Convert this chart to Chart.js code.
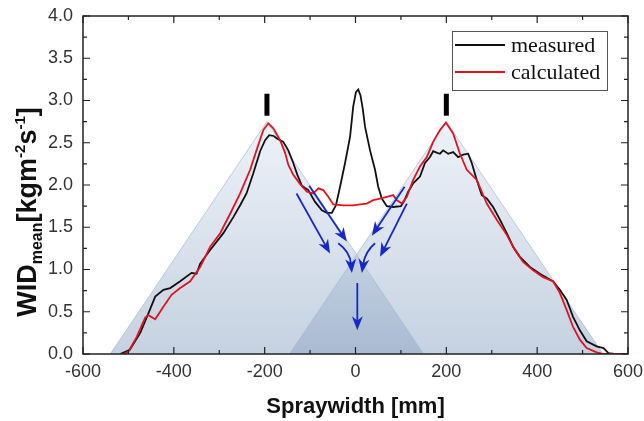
<!DOCTYPE html>
<html>
<head>
<meta charset="utf-8">
<script src="https://cdn.jsdelivr.net/npm/chart.js@4/dist/chart.umd.min.js"></script>
<style>
  html, body { margin: 0; padding: 0; background: #fff; }
</style>
</head>
<body>
<canvas id="chart" width="644" height="421"></canvas>
<script>
// measured WID profile across the spray width
const measuredX = [-518, -497, -474, -456, -441, -423, -408, -386, -361, -350, -342, -320, -291, -269, -254, -240,
  -225, -210, -199, -190, -180, -173, -159, -148, -137, -128, -118, -104, -89, -74, -63, -52, -43, -34, -23, -12,
  -5, 1, 6, 11, 16, 21, 32, 43, 50, 58, 69, 83, 100, 108, 116, 127, 142, 153, 164, 171, 180, 186, 193, 204, 215,
  226, 237, 248, 256, 267, 278, 289, 303, 318, 333, 347, 362, 384, 406, 435, 450, 465, 479, 494, 509, 531, 546, 557, 570]
const measuredY = [0, 0.05, 0.25, 0.48, 0.68, 0.76, 0.78, 0.86, 0.96, 0.95, 1.07, 1.23, 1.43, 1.62, 1.76, 1.90,
  2.14, 2.40, 2.53, 2.59, 2.58, 2.55, 2.51, 2.41, 2.26, 2.12, 1.99, 1.94, 1.80, 1.70, 1.67, 1.67, 1.76, 1.98, 2.26, 2.57,
  2.93, 3.10, 3.13, 3.06, 2.90, 2.69, 2.41, 2.18, 1.98, 1.84, 1.75, 1.74, 1.75, 1.82, 1.92, 2.02, 2.10, 2.26, 2.33, 2.40,
  2.38, 2.37, 2.41, 2.37, 2.39, 2.33, 2.36, 2.37, 2.26, 2.06, 1.88, 1.84, 1.74, 1.59, 1.43, 1.27, 1.15, 1.03, 0.95,
  0.86, 0.76, 0.64, 0.44, 0.28, 0.15, 0.09, 0.07, 0.01, 0]

// calculated WID profile (two overlapping nozzles)
const calculatedX = [-510, -500, -482, -463, -456, -441, -423, -405, -386, -364, -342, -320, -298, -276, -254, -232,
  -218, -203, -192, -181, -166, -155, -148, -137, -122, -107, -93, -82, -71, -60, -49, -27, -5, 10, 25, 39, 54, 69,
  83, 91, 102, 113, 127, 142, 157, 171, 186, 199, 215, 230, 245, 267, 289, 311, 333, 351, 369, 391, 413, 435, 450,
  465, 479, 494, 509, 531, 546, 600]
const calculatedY = [0, 0.03, 0.20, 0.43, 0.46, 0.41, 0.56, 0.70, 0.78, 0.86, 1.03, 1.27, 1.43, 1.66, 1.90, 2.18,
  2.41, 2.65, 2.73, 2.67, 2.53, 2.38, 2.24, 2.12, 2.01, 1.92, 1.90, 1.96, 1.94, 1.86, 1.77, 1.76, 1.76, 1.77, 1.78, 1.82,
  1.84, 1.86, 1.88, 1.82, 1.78, 1.86, 2.06, 2.22, 2.33, 2.51, 2.65, 2.74, 2.61, 2.37, 2.18, 2.06, 1.78, 1.59, 1.41,
  1.23, 1.09, 0.99, 0.91, 0.86, 0.72, 0.52, 0.32, 0.17, 0.07, 0.02, 0, 0]

// spray cones of the two nozzles
const coneApexX = [-195, 200]
const coneApexY = 2.75
const coneHalfWidth = 345

// nozzle position markers
const markerX = [-195, 200]
const markerBottom = 2.82
const markerTop = 3.08

// flow arrows (data coordinates, 3 points = curved)
const arrowPaths = [
  [[-130, 1.90], [-56, 1.19]],
  [[-102, 1.99], [-19, 1.33]],
  [[-38, 1.31], [-12, 1.21], [-8, 0.96]],
  [[43, 1.31], [21, 1.21], [14, 0.96]],
  [[108, 1.98], [36, 1.40]],
  [[113, 1.78], [54, 1.15]],
  [[4, 0.84], [4, 0.28]]
]

const xMin = -600, xMax = 600, xStep = 200
const yMin = 0, yMax = 4, yStep = 0.5

const toPoints = (xs, ys) => xs.map((x, i) => ({ x: x, y: ys[i] }))

const coneFill = (context) => {
  const chart = context.chart
  if (!chart.chartArea) return 'rgba(200,212,226,0.5)'
  const y = chart.scales.y
  const g = chart.ctx.createLinearGradient(0, y.getPixelForValue(coneApexY), 0, y.getPixelForValue(0))
  g.addColorStop(0, 'rgba(215,225,240,0.45)')
  g.addColorStop(1, 'rgba(140,165,195,0.5)')
  return g
}

const coneSets = coneApexX.map(cx => ({
  label: 'cone',
  data: [{ x: cx - coneHalfWidth, y: 0 }, { x: cx, y: coneApexY }, { x: cx + coneHalfWidth, y: 0 }],
  fill: 'origin',
  backgroundColor: coneFill,
  borderColor: 'rgba(165,185,208,0.7)',
  borderWidth: 1,
  pointRadius: 0,
  order: 5
}))

const markerSets = markerX.map(mx => ({
  label: 'marker',
  data: [{ x: mx, y: markerBottom }, { x: mx, y: markerTop }],
  borderColor: '#000',
  borderWidth: 5,
  borderCapStyle: 'butt',
  pointRadius: 0,
  fill: false,
  order: 0
}))

// keep tick labels from pushing the plot area inwards
const noLabelPadding = (scale) => {
  scale.paddingLeft = 0
  scale.paddingRight = 0
  scale.paddingTop = 0
  scale.paddingBottom = 0
}

const framePlugin = {
  id: 'frame',
  afterDatasetsDraw(chart) {
    const { ctx, chartArea: a, scales } = chart
    ctx.save()

    // blue flow arrows
    ctx.strokeStyle = 'rgb(22,40,205)'
    ctx.fillStyle = 'rgb(22,40,205)'
    ctx.lineWidth = 1.8
    arrowPaths.forEach(path => {
      const p = path.map(([x, y]) => [scales.x.getPixelForValue(x), scales.y.getPixelForValue(y)])
      const end = p[p.length - 1]
      const prev = p[p.length - 2]
      const ang = Math.atan2(end[1] - prev[1], end[0] - prev[0])
      const L = 14, W = 5.5
      const sx = end[0] - Math.cos(ang) * L * 0.6
      const sy = end[1] - Math.sin(ang) * L * 0.6
      ctx.beginPath()
      ctx.moveTo(p[0][0], p[0][1])
      if (p.length === 3) ctx.quadraticCurveTo(p[1][0], p[1][1], sx, sy)
      else ctx.lineTo(sx, sy)
      ctx.stroke()
      ctx.save()
      ctx.translate(end[0], end[1])
      ctx.rotate(ang)
      ctx.beginPath()
      ctx.moveTo(0, 0)
      ctx.lineTo(-L, -W)
      ctx.lineTo(-L * 0.7, 0)
      ctx.lineTo(-L, W)
      ctx.closePath()
      ctx.fill()
      ctx.restore()
    })

    // axis box with inward ticks on all sides
    ctx.strokeStyle = '#222'
    ctx.lineWidth = 1.5
    ctx.strokeRect(a.left, a.top, a.right - a.left, a.bottom - a.top)
    ctx.lineWidth = 1.2
    ctx.beginPath()
    for (let v = xMin; v <= xMax; v += xStep / 2) {
      const px = scales.x.getPixelForValue(v)
      const len = (v % xStep === 0) ? 7 : 4
      ctx.moveTo(px, a.bottom); ctx.lineTo(px, a.bottom - len)
      ctx.moveTo(px, a.top); ctx.lineTo(px, a.top + len)
    }
    for (let v = yMin; v <= yMax + 1e-9; v += yStep / 2) {
      const py = scales.y.getPixelForValue(v)
      const major = Math.abs(v / yStep - Math.round(v / yStep)) < 1e-6
      const len = major ? 7 : 4
      ctx.moveTo(a.left, py); ctx.lineTo(a.left + len, py)
      ctx.moveTo(a.right, py); ctx.lineTo(a.right - len, py)
    }
    ctx.stroke()

    // legend box inside the plot
    const lx = 452, ly = 31, lw = 155, lh = 59
    ctx.fillStyle = '#fff'
    ctx.fillRect(lx, ly, lw, lh)
    ctx.strokeStyle = '#555'
    ctx.lineWidth = 1
    ctx.strokeRect(lx + 0.5, ly + 0.5, lw, lh)
    const entries = [chart.data.datasets[0], chart.data.datasets[1]]
    ctx.font = '22px "Liberation Serif"'
    ctx.textBaseline = 'alphabetic'
    entries.forEach((ds, i) => {
      const y = ly + 14 + i * 27
      ctx.strokeStyle = ds.borderColor
      ctx.lineWidth = 1.8
      ctx.beginPath()
      ctx.moveTo(lx + 3, y); ctx.lineTo(lx + 53, y)
      ctx.stroke()
      ctx.fillStyle = '#111'
      ctx.fillText(ds.label, lx + 59, y + 7)
    })
    ctx.restore()
  },
  afterDraw(chart) {
    // y axis title with subscript and superscripts
    const { ctx } = chart
    const parts = [['WID', 27, 0], ['mean', 16, 6], ['[kgm', 27, 0], ['-2', 15, -11], ['s', 27, 0], ['-1', 15, -11], [']', 27, 0]]
    ctx.save()
    let total = 0
    parts.forEach(([t, s]) => { ctx.font = `bold ${s}px "Liberation Sans"`; total += ctx.measureText(t).width })
    ctx.translate(36, 212)
    ctx.rotate(-Math.PI / 2)
    ctx.fillStyle = '#111'
    ctx.textBaseline = 'alphabetic'
    let x = -total / 2
    parts.forEach(([t, s, dy]) => {
      ctx.font = `bold ${s}px "Liberation Sans"`
      ctx.fillText(t, x, dy)
      x += ctx.measureText(t).width
    })
    ctx.restore()
  }
}

new Chart(document.getElementById('chart').getContext('2d'), {
  type: 'line',
  data: {
    datasets: [
      {
        label: 'measured',
        data: toPoints(measuredX, measuredY),
        borderColor: '#111',
        borderWidth: 1.8,
        pointRadius: 0,
        fill: false,
        order: 2
      },
      {
        label: 'calculated',
        data: toPoints(calculatedX, calculatedY),
        borderColor: 'rgb(225,20,30)',
        borderWidth: 1.8,
        pointRadius: 0,
        fill: false,
        order: 1
      },
      ...coneSets,
      ...markerSets
    ]
  },
  options: {
    responsive: false,
    animation: false,
    layout: { padding: { top: 16, right: 16, left: 0, bottom: 0 } },
    plugins: {
      legend: { display: false },
      tooltip: { enabled: false }
    },
    scales: {
      x: {
        type: 'linear',
        min: xMin,
        max: xMax,
        grid: { display: false, drawTicks: false },
        border: { display: false },
        ticks: {
          stepSize: xStep,
          padding: 7,
          color: '#333',
          font: { family: '"Liberation Sans"', size: 18 },
          maxRotation: 0
        },
        title: {
          display: true,
          text: 'Spraywidth [mm]',
          color: '#111',
          font: { family: '"Liberation Sans"', size: 22, weight: 'bold' },
          padding: { top: 0, bottom: 1 }
        },
        afterFit: (scale) => {
          scale.height = 67
          noLabelPadding(scale)
        }
      },
      y: {
        min: yMin,
        max: yMax,
        grid: { display: false, drawTicks: false },
        border: { display: false },
        ticks: {
          stepSize: yStep,
          padding: 10,
          color: '#333',
          font: { family: '"Liberation Sans"', size: 18 },
          callback: (v) => v.toFixed(1)
        },
        afterFit: (scale) => {
          scale.width = 83
          noLabelPadding(scale)
        }
      }
    }
  },
  plugins: [framePlugin]
})
</script>
</body>
</html>
